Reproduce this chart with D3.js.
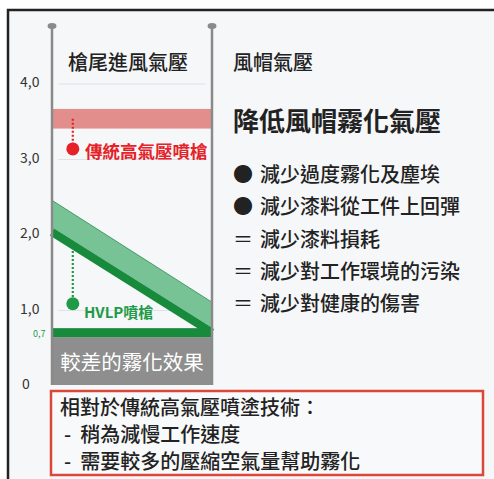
<!DOCTYPE html>
<html>
<head>
<meta charset="utf-8">
<script src="https://cdn.jsdelivr.net/npm/d3@7"></script>
<style>
  body { margin: 0; background: #fff; }
  svg { display: block; font-family: "Noto Sans CJK TC", "Noto Sans", sans-serif; }
</style>
</head>
<body>
<div id="chart"></div>
<script>
const yTicks = [0, 1, 2, 3, 4];
const yTickLabels = ['0', '1,0', '2,0', '3,0', '4,0'];
const gridValues = [1, 3, 4];
const redBand = [3.37, 3.63];
const greenTop = [[0, 2.42], [1, 1.07]];
const greenBottom = [[0, 2.05], [1, 0.72]];
const minLevel = 0.7;
const dots = [
  { name: '傳統高氣壓噴槍', x: 0.13, y: 3.1, from: 3.5, color: '#e42228' },
  { name: 'HVLP噴槍', x: 0.13, y: 1.05, from: 1.75, color: '#1f9a47' }
];
const headers = ['槍尾進風氣壓', '風帽氣壓'];
const title = '降低風帽霧化氣壓';
const benefits = [
  ['●', '減少過度霧化及塵埃'],
  ['●', '減少漆料從工件上回彈'],
  ['＝', '減少漆料損耗'],
  ['＝', '減少對工作環境的污染'],
  ['＝', '減少對健康的傷害']
];
const noteLines = ['相對於傳統高氣壓噴塗技術：', '稍為減慢工作速度', '需要較多的壓縮空氣量幫助霧化'];

const W = 494, H = 479;
const svg = d3.select('#chart').append('svg').attr('width', W).attr('height', H);

// frame
svg.append('rect').attr('x', 8).attr('y', 10).attr('width', W).attr('height', H)
  .attr('fill', '#f6f7f9').attr('stroke', '#222').attr('stroke-width', 2.5);

const x = d3.scaleLinear().domain([0, 1]).range([52, 212]);
const y = d3.scaleLinear().domain([0, 4]).range([383, 81]);

// grid
svg.append('g').selectAll('line').data(gridValues).join('line')
  .attr('x1', x(0) + 6).attr('x2', x(1) - 6)
  .attr('y1', d => y(d) + 3).attr('y2', d => y(d) + 3)
  .attr('stroke', '#dde3e8').attr('stroke-width', 1);

// tick labels
svg.append('g').selectAll('text').data(yTicks).join('text')
  .attr('x', d => d === 0 ? 22 : 20).attr('y', d => y(d) + 6)
  .attr('font-size', 14).attr('fill', '#333')
  .text((d, i) => yTickLabels[i]);

svg.append('text').attr('x', 33).attr('y', y(minLevel) + 7)
  .attr('font-size', 9).attr('fill', '#1f9a47').text('0,7');

// poorer atomization block
svg.append('rect').attr('x', x(0)).attr('y', y(minLevel) + 7)
  .attr('width', x(1) - x(0)).attr('height', 385 - y(minLevel) - 7)
  .attr('fill', '#8e8e8e');
svg.append('text').attr('x', (x(0) + x(1)) / 2).attr('y', 370)
  .attr('text-anchor', 'middle').attr('font-size', 20.5).attr('fill', '#fff')
  .text('較差的霧化效果');

// red band
svg.append('rect').attr('x', x(0)).attr('y', y(redBand[1]))
  .attr('width', x(1) - x(0)).attr('height', y(redBand[0]) - y(redBand[1]))
  .attr('fill', '#e28e8c');

// green band
const band = greenTop.concat(greenBottom.slice().reverse());
svg.append('path')
  .attr('d', d3.line().x(d => x(d[0])).y(d => y(d[1]))(band) + 'Z')
  .attr('fill', '#78c396').attr('stroke', '#2f8a50').attr('stroke-width', 0.8);
svg.append('path')
  .attr('d', d3.line().x(d => x(d[0])).y(d => y(d[1]) + 4)(greenBottom))
  .attr('stroke', '#178a3c').attr('stroke-width', 8).attr('fill', 'none');
svg.append('rect').attr('x', x(0)).attr('y', y(minLevel) - 2)
  .attr('width', x(1) - x(0)).attr('height', 9).attr('fill', '#178a3c');

// dots
dots.forEach(d => {
  svg.append('line').attr('x1', x(d.x)).attr('x2', x(d.x))
    .attr('y1', y(d.from)).attr('y2', y(d.y))
    .attr('stroke', d.color).attr('stroke-width', 2.2).attr('stroke-dasharray', '2,2');
  svg.append('circle').attr('cx', x(d.x)).attr('cy', y(d.y)).attr('r', 6.5).attr('fill', d.color);
});
svg.append('text').attr('x', 85).attr('y', y(3.1) + 9).attr('font-size', 17.5)
  .attr('font-weight', 700).attr('fill', '#e42228').text(dots[0].name);
svg.append('text').attr('x', 84).attr('y', y(1.05) + 14).attr('font-size', 15)
  .attr('font-weight', 700).attr('fill', '#1f9a47').text(dots[1].name);

// axis lines with knobs
[0, 1].forEach(v => {
  svg.append('line').attr('x1', x(v)).attr('x2', x(v)).attr('y1', 26).attr('y2', 385)
    .attr('stroke', '#8a8a8a').attr('stroke-width', 2.5);
  svg.append('ellipse').attr('cx', x(v)).attr('cy', 26).attr('rx', 4.5).attr('ry', 3)
    .attr('fill', '#8a8a8a');
});

// headers
svg.append('text').attr('x', 68).attr('y', 70).attr('font-size', 20)
  .attr('font-weight', 500).attr('fill', '#222').text(headers[0]);
svg.append('text').attr('x', 233).attr('y', 70).attr('font-size', 20)
  .attr('font-weight', 500).attr('fill', '#222').text(headers[1]);

svg.append('text').attr('x', 233).attr('y', 131).attr('font-size', 26)
  .attr('font-weight', 700).attr('fill', '#222').text(title);

const list = svg.append('g').selectAll('g').data(benefits).join('g')
  .attr('transform', (d, i) => 'translate(233,' + (182 + i * 32.3) + ')');
list.append('text').attr('x', 0).attr('y', 0)
  .attr('font-size', 20).attr('fill', '#222').text(d => d[0]);
list.append('text').attr('x', 27).attr('y', 0).attr('font-size', 20)
  .attr('font-weight', 500).attr('fill', '#222').text(d => d[1]);

// note box
svg.append('rect').attr('x', 51).attr('y', 391).attr('width', 432).attr('height', 84)
  .attr('fill', '#f8f9fa').attr('stroke', '#d9483a').attr('stroke-width', 2.5);
const notes = svg.append('g').selectAll('text').data(noteLines).join('text')
  .attr('x', (d, i) => i > 0 ? 64 : 60).attr('y', (d, i) => 415 + i * 27)
  .attr('font-size', 20).attr('font-weight', 500).attr('fill', '#222');
notes.filter((d, i) => i > 0).append('tspan').text('-');
notes.append('tspan').attr('dx', (d, i) => i > 0 ? 9 : 0).text(d => d);
</script>
</body>
</html>
